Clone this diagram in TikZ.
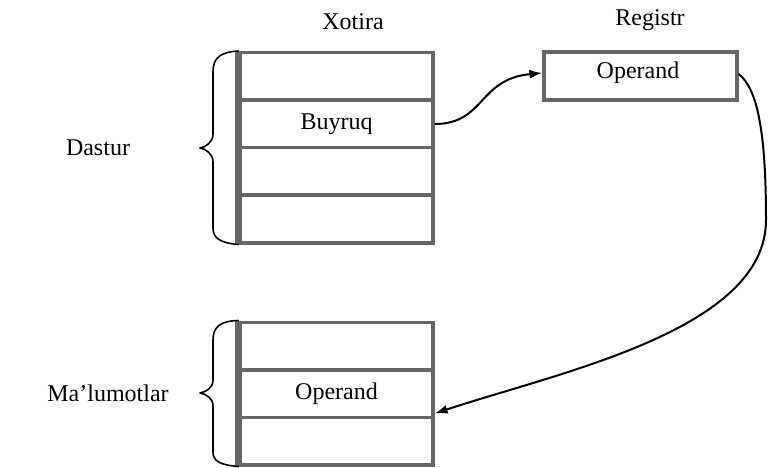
\documentclass[tikz,border=0pt]{standalone}
\usepackage{fontspec}
\setmainfont{Liberation Serif}
\usetikzlibrary{arrows.meta}
\begin{document}
\begin{tikzpicture}[x=1pt,y=-1pt,
  cell/.style={draw=black!60, line width=3.2pt, minimum width=193pt, minimum height=47.8pt, inner sep=0pt, anchor=center},
  lbl/.style={font=\fontsize{24}{27}\selectfont, inner sep=0pt, anchor=center},
  conn/.style={line width=2pt, -{Latex[length=13pt,width=9pt]}},
  brace/.style={line width=1.6pt, line cap=round, line join=round},
  leftedge/.style={draw=black!60, line width=6pt}]
\useasboundingbox (0,0) rectangle (769,468);
% titles
\node[lbl] (xotira) at (353,22) {Xotira};
\node[lbl] (registr) at (650,20) {Registr};
\node[lbl] (dastur) at (98,148) {Dastur};
\node[lbl] (malumot) at (108,393) {Ma’lumotlar};
% program memory
\node[cell] (p1) at (336.5,76.5) {};
\node[cell] (p2) at (336.5,124) {};
\node[cell] (p3) at (336.5,171.5) {};
\node[cell] (p4) at (336.5,219) {};
\node[lbl] (buyruq) at (p2.center) {Buyruq};
\draw[leftedge] (p1.north west) -- (p4.south west);
% data memory
\node[cell] (d1) at (336.5,346) {};
\node[cell] (d2) at (336.5,393.5) {};
\node[cell] (d3) at (336.5,441) {};
\node[lbl] (operandm) at (d2.center) {Operand};
\draw[leftedge] (d1.north west) -- (d3.south west);
% register
\node[cell, minimum height=48pt] (reg) at (640.5,76) {};
\node[lbl] (operandr) at (638,73) {Operand};
% braces
\draw[brace] (p1.north west) .. controls (220,52) and (213,58) .. (213,72)
  -- (213,134) .. controls (213,142) and (206,147) .. (200,148)
  .. controls (206,149) and (213,154) .. (213,162)
  -- (213,228) .. controls (213,238) and (220,243) .. (p4.south west);
\draw[brace] (d1.north west) .. controls (220,321) and (213,327) .. (213,340)
  -- (213,380) .. controls (213,388) and (206,392) .. (200,393)
  .. controls (206,394) and (213,398) .. (213,406)
  -- (213,452) .. controls (213,461) and (220,465) .. (d3.south west);
% connectors
\coordinate (bend) at (766,220);
\draw[conn] (p2.east) .. controls (485,124) and (478,79) .. ([yshift=3pt]reg.west);
\draw[conn] ([yshift=2pt]reg.east) .. controls (757,88) and (766,130) .. (bend)
  .. controls (766,330) and (560,372) .. ([yshift=-20pt]d2.east);
\end{tikzpicture}
\end{document}
